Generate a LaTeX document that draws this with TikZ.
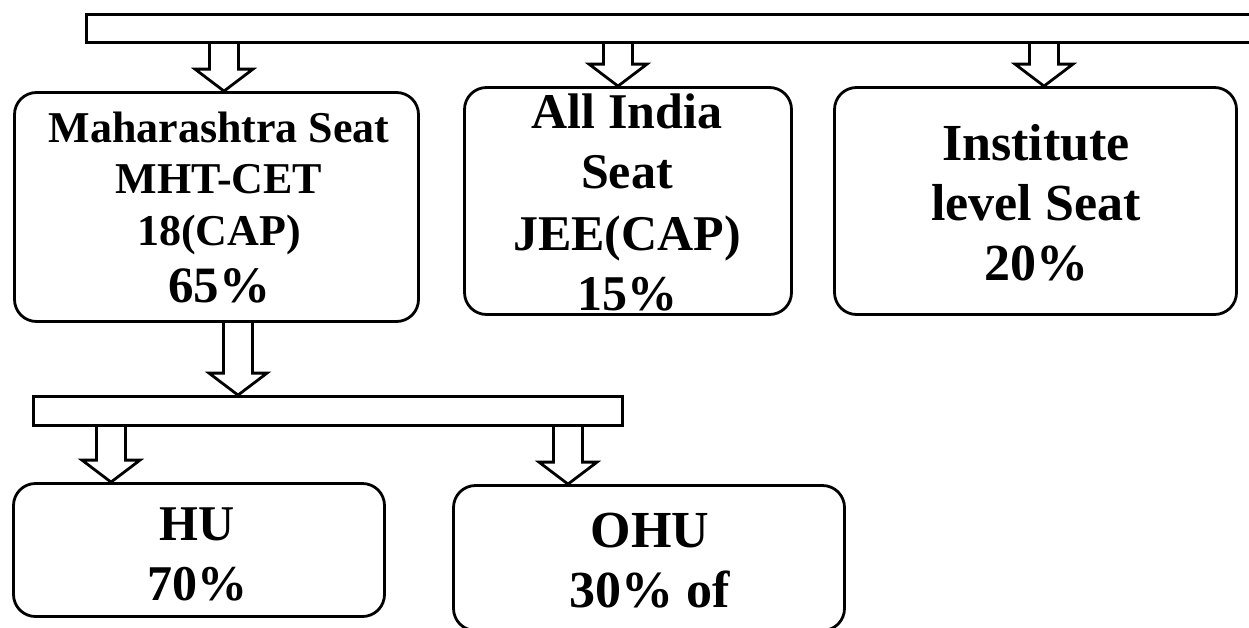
\documentclass[tikz,border=0pt]{standalone}
\usepackage{fontspec}
\setmainfont{Liberation Serif}
\usetikzlibrary{calc}
\newcommand\blockarrow[2]{%
  \draw[line join=miter] let \p1=(#1), \p2=(#2) in
    (\x2-14.5pt,\y1) -- (\x2-14.5pt,\y2+22pt) -- (\x2-29pt,\y2+22pt) -- (\x2,\y2)
    -- (\x2+29pt,\y2+22pt) -- (\x2+14.5pt,\y2+22pt) -- (\x2+14.5pt,\y1);}
\begin{document}
\begin{tikzpicture}[x=1pt,y=-1pt,line width=2.8pt,
  box/.style={draw,rounded corners=22pt,inner sep=0pt},
  bar/.style={draw,inner sep=0pt},
  txt/.style={anchor=base,inner sep=0pt,font=\bfseries\fontsize{#1pt}{#1pt}\selectfont}]
\useasboundingbox (0,0) rectangle (1249,627);
% bars
\node[bar,minimum width=1174pt,minimum height=28pt] (top) at (673.5,28.5) {};
\node[bar,minimum width=589pt,minimum height=29pt] (mid) at (328,411) {};
% boxes
\node[box,minimum width=404pt,minimum height=229pt] (mah) at (216.5,207) {};
\node[box,minimum width=327pt,minimum height=227pt] (ind) at (628,201) {};
\node[box,minimum width=402pt,minimum height=227pt] (ins) at (1035.5,201) {};
\node[box,minimum width=371pt,minimum height=133pt] (hu) at (199,550) {};
\node[box,minimum width=391pt,minimum height=145pt] (ohu) at (649,558) {};
% arrow axes
\coordinate (a1) at (224,0);
\coordinate (a2) at (618,0);
\coordinate (a3) at (1044,0);
\coordinate (a4) at (238,0);
\coordinate (a5) at (111,0);
\coordinate (a6) at (568,0);
\blockarrow{top.south -| a1}{mah.north -| a1}
\blockarrow{top.south -| a2}{ind.north -| a2}
\blockarrow{top.south -| a3}{ins.north -| a3}
\blockarrow{mah.south -| a4}{mid.north -| a4}
\blockarrow{mid.south -| a5}{hu.north -| a5}
\blockarrow{mid.south -| a6}{ohu.north -| a6}
% texts
\node[txt=44] (m1) at (219,142) {Maharashtra Seat};
\node[txt=44] (m2) at (219,193) {MHT-CET};
\node[txt=44] (m3) at (219,245) {18(CAP)};
\node[txt=51] (m4) at (219,302) {65\%};
\node[txt=50] (i1) at (627,128) {All India};
\node[txt=50] (i2) at (627,188) {Seat};
\node[txt=50] (i3) at (627,250) {JEE(CAP)};
\node[txt=50] (i4) at (627,310) {15\%};
\node[txt=52] (s1) at (1036,160) {Institute};
\node[txt=52] (s2) at (1036,220) {level Seat};
\node[txt=52] (s3) at (1036,280) {20\%};
\node[txt=50] (h1) at (197,540) {HU};
\node[txt=50] (h2) at (197,600) {70\%};
\node[txt=52] (o1) at (650,547) {OHU};
\node[txt=52] (o2) at (650,607) {30\% of};
\end{tikzpicture}
\end{document}
